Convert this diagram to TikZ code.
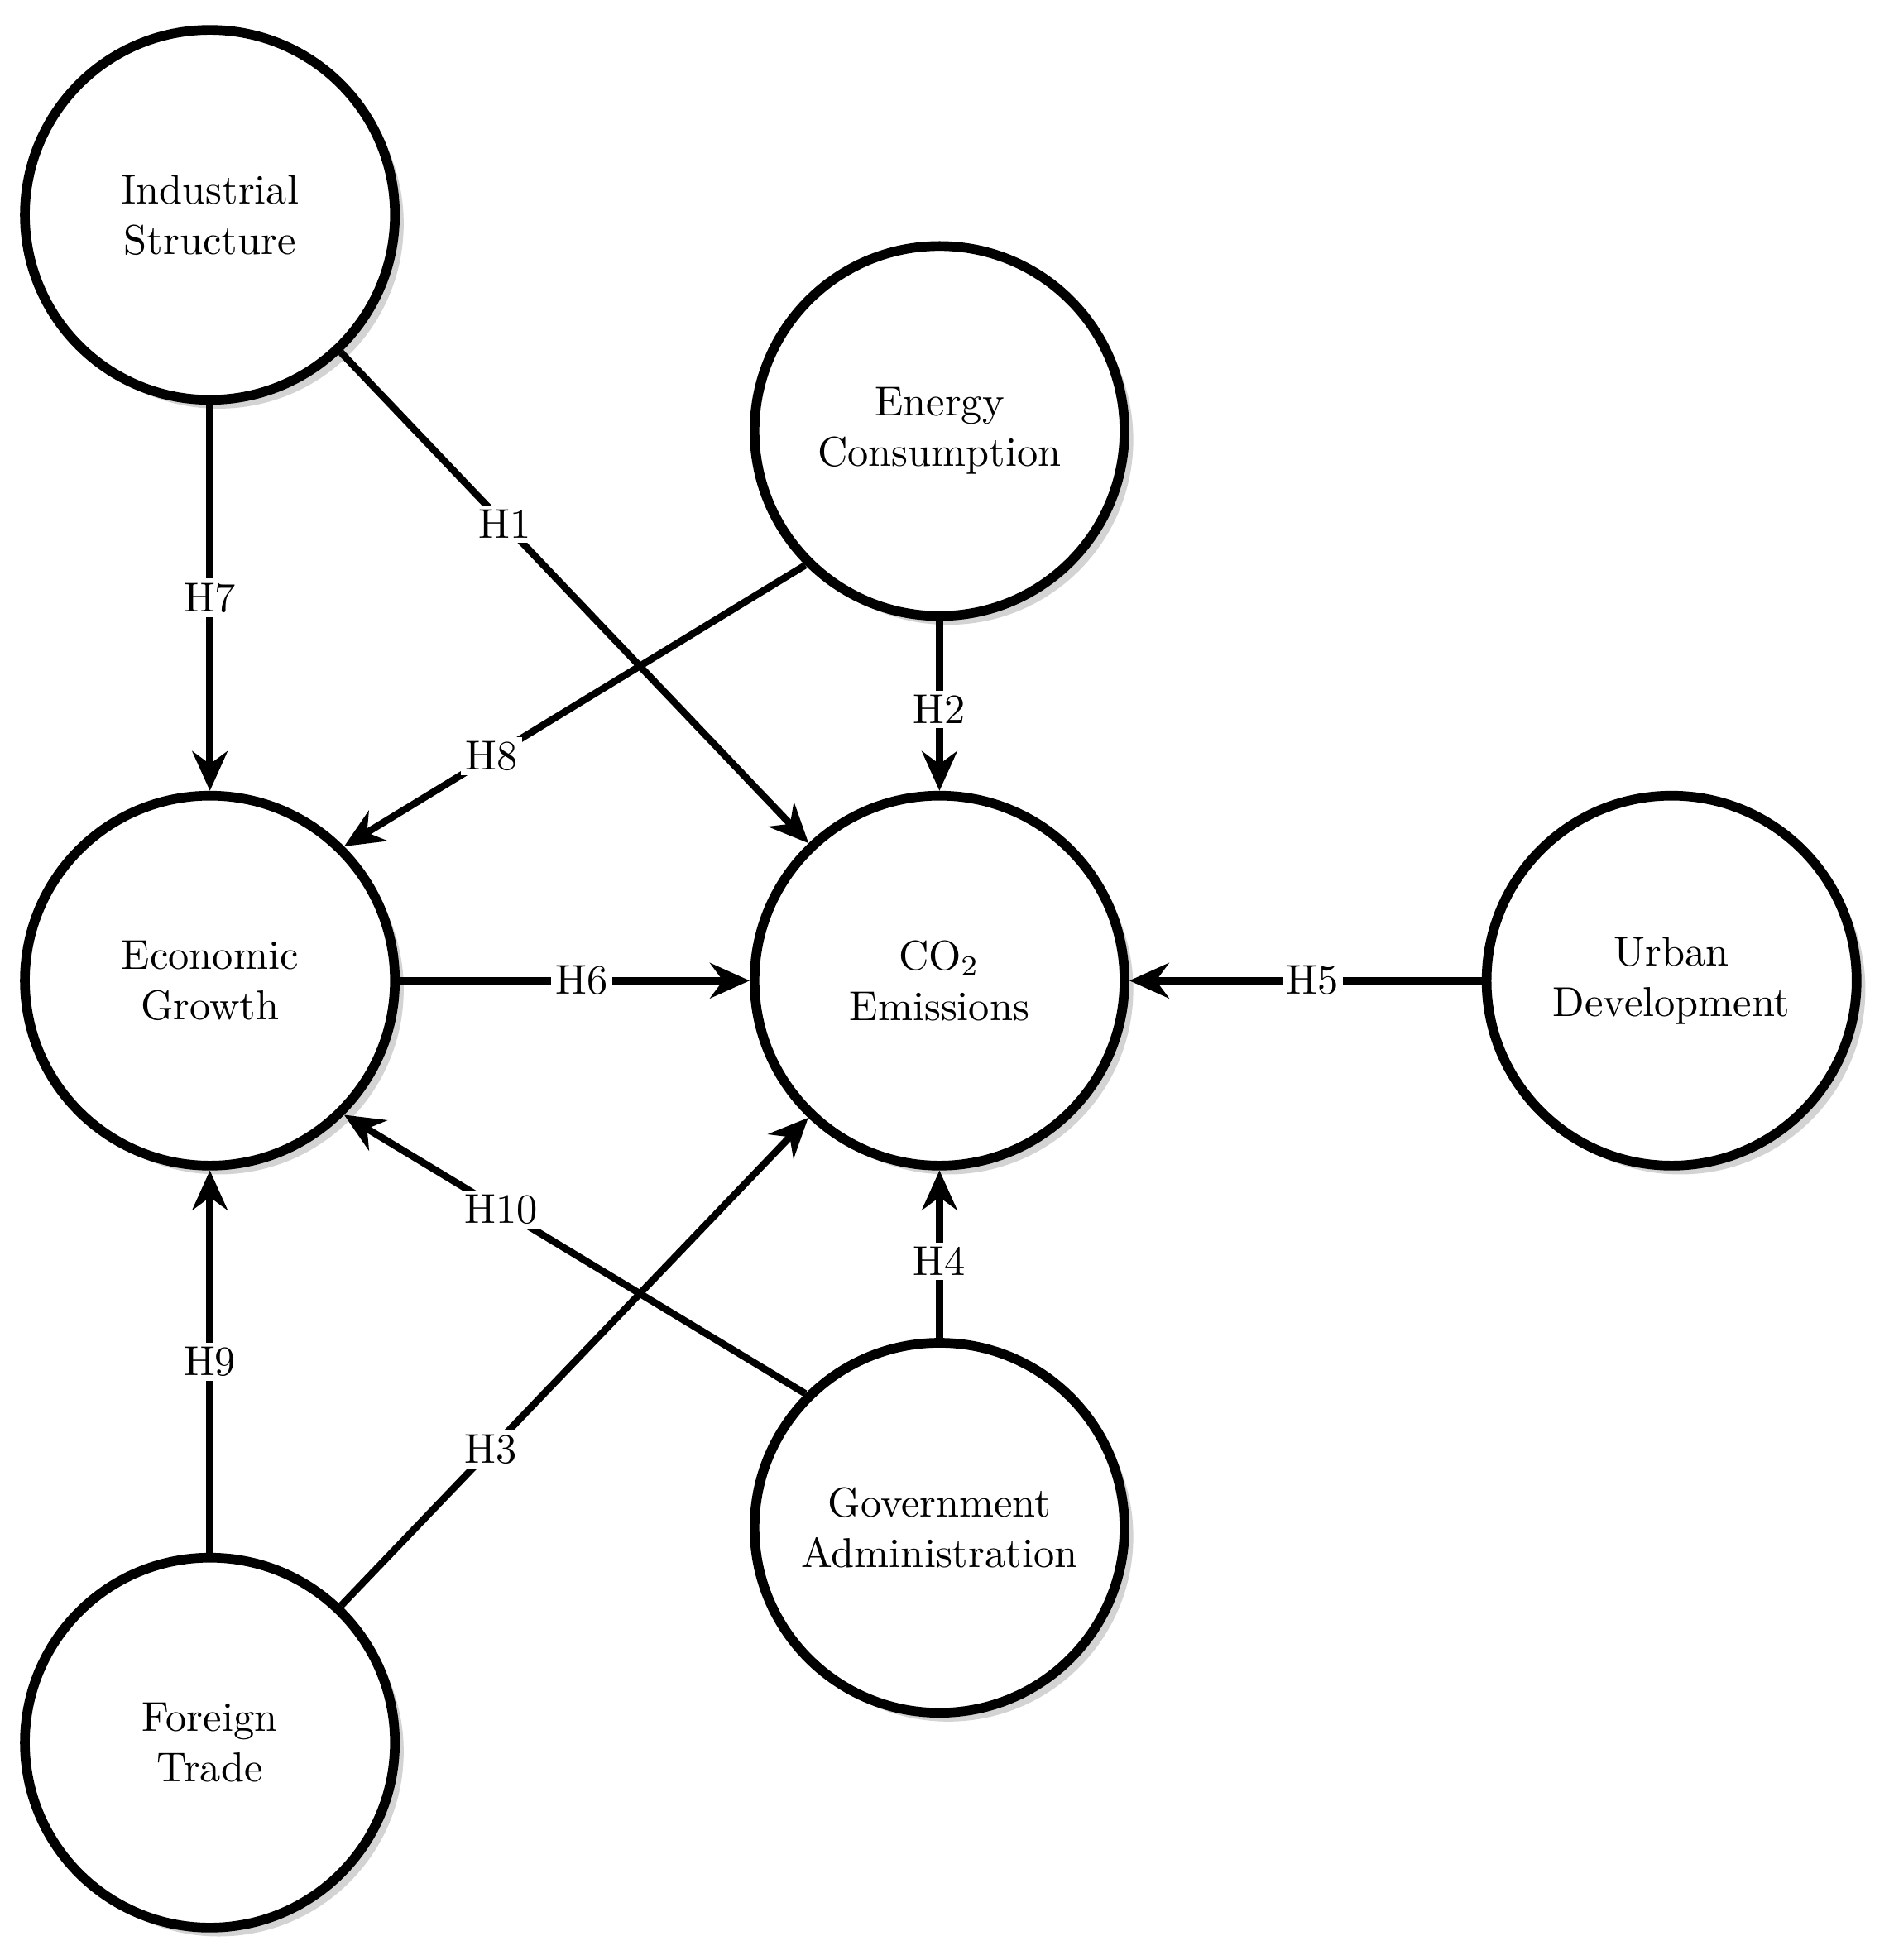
\documentclass[tikz,border=0pt]{standalone}
\usetikzlibrary{arrows.meta,shadows}
\begin{document}
\begin{tikzpicture}[x=0.01cm,y=-0.01cm,
  c/.style={circle,draw,line width=2.2pt,minimum size=2.96cm,inner sep=0pt,align=center,fill=white,
    drop shadow={shadow xshift=2pt,shadow yshift=-2pt,opacity=0.35},font=\fontsize{9.5}{11.5}\selectfont},
  a/.style={line width=1.6pt,-{Stealth[length=9pt,width=8pt]}},
  l/.style={fill=white,inner sep=1pt,font=\fontsize{9.5}{11}\selectfont}]
\useasboundingbox (0,0) rectangle (1516,1569);
\node[c] (is) at (168,172) {Industrial\\Structure};
\node[c] (ec) at (752,345) {Energy\\Consumption};
\node[c] (eg) at (168,785) {Economic\\Growth};
\node[c] (co) at (752,785) {CO\textsubscript{2}\\Emissions};
\node[c] (ud) at (1338,785) {Urban\\Development};
\node[c] (ga) at (752,1223) {Government\\Administration};
\node[c] (ft) at (168,1395) {Foreign\\Trade};
\draw[a] (is) -- node[l,pos=0.5]{H7} (eg);
\draw[a] (is) -- node[l,pos=0.35]{H1} (co);
\draw[a] (ec.225) -- node[l,pos=0.68]{H8} (eg.45);
\draw[a] (ec) -- node[l,pos=0.52]{H2} (co);
\draw[a] (eg) -- node[l,pos=0.52]{H6} (co);
\draw[a] (ud) -- node[l,pos=0.48]{H5} (co);
\draw[a] (ga.135) -- node[l,pos=0.66]{H10} (eg.-45);
\draw[a] (ga) -- node[l,pos=0.46]{H4} (co);
\draw[a] (ft) -- node[l,pos=0.5]{H9} (eg);
\draw[a] (ft) -- node[l,pos=0.32]{H3} (co);
\end{tikzpicture}
\end{document}
